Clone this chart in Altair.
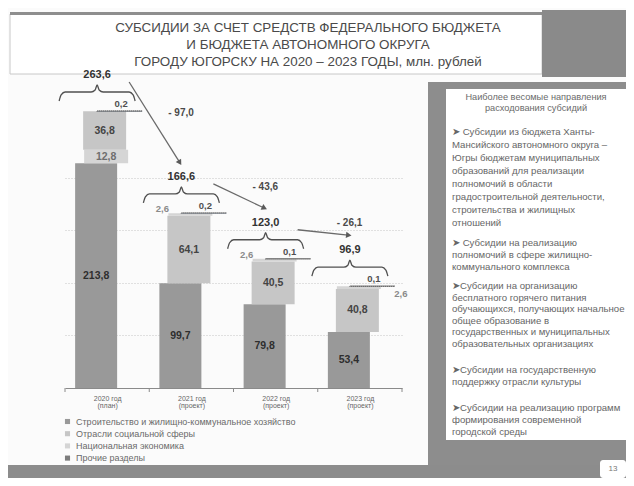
import json
import math
import altair as alt
import pandas as pd

# ---------------- data ----------------
categories = ["2020 год|(план)", "2021 год|(проект)", "2022 год|(проект)", "2023 год|(проект)"]
series = [
    "Строительство и жилищно-коммунальное хозяйство",
    "Отрасли социальной сферы",
    "Национальная экономика",
    "Прочие разделы",
]
construction = [213.8, 99.7, 79.8, 53.4]
social = [36.8, 64.1, 40.5, 40.8]
national = [12.8, 2.6, 2.6, 2.6]
other = [0.2, 0.2, 0.1, 0.1]
totals = [263.6, 166.6, 123.0, 96.9]
stack_orders = [[0, 2, 1, 3], [0, 1, 2, 3], [0, 1, 2, 3], [0, 1, 2, 3]]

title_lines = [
    "СУБСИДИИ ЗА СЧЕТ СРЕДСТВ ФЕДЕРАЛЬНОГО  БЮДЖЕТА",
    "И БЮДЖЕТА АВТОНОМНОГО ОКРУГА",
    "ГОРОДУ ЮГОРСКУ НА 2020 – 2023 ГОДЫ, млн. рублей",
]
panel_heading = "Наиболее  весомые  направления\nрасходования  субсидий"
panel_items = [
    "➤ Субсидии из бюджета Ханты-\nМансийского автономного округа –\nЮгры бюджетам  муниципальных\nобразований для реализации\nполномочий в области\nградостроительной деятельности,\nстроительства  и жилищных\nотношений",
    "➤ Субсидии на реализацию\nполномочий в сфере жилищно-\nкоммунального комплекса",
    "➤Субсидии на организацию\nбесплатного горячего питания\nобучающихся, получающих начальное\nобщее образование  в\nгосударственных  и муниципальных\nобразовательных  организациях",
    "➤Субсидии на государственную\nподдержку  отрасли культуры",
    "➤Субсидии на реализацию программ\nформирования современной\nгородской среды",
]
page_number = "13"

# ---------------- geometry / style ----------------
W, H = 337, 289
XMAX, YMAX = 4, 275
PXX, PXY = W / XMAX, H / YMAX


def ux(px):
    return px / PXX


def uy(px):
    return px / PXY


def fmt(v):
    return f"{v:.1f}".replace(".", ",")


FONT = "Liberation Sans"
NARROW = "Liberation Sans Narrow, Arial Narrow, Liberation Sans"
values = [construction, social, national, other]
seg_px = [(-32, 10), (-24, 19), (-23, 21), (-10, 35)]
colors = ["#999999", "#c6c6c6", "#d5d5d5", "#7d7d7d"]
label_colors = ["#2e2e2e", "#444444", "#6e6e6e", "#555555"]

xscale = alt.Scale(domain=[0, XMAX], nice=False, zero=False)
yscale = alt.Scale(domain=[0, YMAX], nice=False, zero=False)
label_expr = "split(" + json.dumps(categories, ensure_ascii=False) + "[floor(datum.value)], '|')"
xaxis = alt.Axis(values=[0.5, 1.5, 2.5, 3.5], labelExpr=label_expr, ticks=False, grid=False,
                 domainColor="#8a8a8a", domainWidth=1, labelFontSize=7, labelColor="#666666",
                 labelFont=FONT, labelPadding=6, labelLineHeight=7.5, title=None)
yaxis = alt.Axis(values=[50, 100, 150, 200], labels=False, ticks=False, domain=False, title=None,
                 gridColor="#c4c4c4", gridDash=[1, 2], gridWidth=1)


def X(f):
    return alt.X(f, type="quantitative", scale=xscale, axis=xaxis)


def Y(f):
    return alt.Y(f, type="quantitative", scale=yscale, axis=yaxis)


# bars
rows = []
for i in range(len(categories)):
    c = i + 0.5
    cum = 0.0
    for s in stack_orders[i]:
        v = values[s][i]
        a, b = seg_px[s]
        rows.append(dict(cat=i, series=series[s], sidx=s, x0=c + ux(a), x1=c + ux(b),
                         y0=cum, y1=cum + v, v=v, label=fmt(v), lc=label_colors[s]))
        cum += v
df = pd.DataFrame(rows)

# value labels
big, small = [], []
for r in rows:
    c = r["cat"] + 0.5
    if r["v"] >= 5:
        big.append(dict(x=(r["x0"] + r["x1"]) / 2, y=(r["y0"] + r["y1"]) / 2, t=r["label"], lc=r["lc"]))
    elif r["sidx"] == 2:
        if r["cat"] == len(categories) - 1:
            small.append(dict(x=c + ux(41), y=r["y1"] - uy(8), t=r["label"], lc="#8a8a8a"))
        else:
            small.append(dict(x=c + ux(-29), y=r["y1"] + uy(4), t=r["label"], lc="#8a8a8a"))
    else:
        small.append(dict(x=c + ux(14), y=r["y1"] + uy(7), t=r["label"], lc="#505050"))
df_big = pd.DataFrame(big)
df_small = pd.DataFrame(small)

# totals, braces, arrows
lab = [(i + 0.5 + ux(-10), t + uy(36)) for i, t in enumerate(totals)]
df_tot = pd.DataFrame(dict(x=[p[0] for p in lab], y=[p[1] for p in lab], t=[fmt(t) for t in totals]))

brace_shape = [(-48, 10), (-46, 16), (-42, 19), (-16, 19), (-12, 21), (-10, 26), (-8, 21),
               (-4, 19), (22, 19), (26, 16), (28, 10)]
br = []
for i, t in enumerate(totals):
    for k, (dx, up) in enumerate(brace_shape):
        br.append(dict(cat=i, k=k, x=i + 0.5 + ux(dx), y=t + uy(up)))
df_br = pd.DataFrame(br)

ar, heads, difs = [], [], []
for i in range(len(totals) - 1):
    sx, sy = lab[i][0] + ux(32), lab[i][1] - uy(7)
    ex, ey = lab[i + 1][0] + ux(-2), lab[i + 1][1] + uy(15)
    ar.append(dict(g=i, k=0, x=sx, y=sy))
    ar.append(dict(g=i, k=1, x=ex, y=ey))
    dxp, dyp = (ex - sx) * PXX, -(ey - sy) * PXY
    ang = math.degrees(math.atan2(dxp, -dyp)) % 360
    heads.append(dict(x=ex, y=ey, ang=ang))
    d = totals[i + 1] - totals[i]
    difs.append(dict(x=(sx + ex) / 2 + ux(14), y=(sy + ey) / 2 + uy(9),
                     t=("- " if d < 0 else "+ ") + fmt(abs(d))))
df_ar = pd.DataFrame(ar)
df_head = pd.DataFrame(heads)
df_dif = pd.DataFrame(difs)

one = pd.DataFrame({"k": [0]})


def rect(x1, x2, y1, y2, **kw):
    return alt.Chart(one).mark_rect(**kw).encode(
        x=alt.value(x1), x2=alt.value(x2), y=alt.value(y1), y2=alt.value(y2))


def text(x, y, t, **kw):
    return alt.Chart(one).mark_text(**kw).encode(x=alt.value(x), y=alt.value(y), text=alt.value(t))


layers = []
# title box
layers.append(rect(-55, 477, -85, -25, fill="#ffffff", stroke="#c8c8c8", strokeWidth=1))
layers.append(rect(-55, 477, -87, -84, fill="#8e8e8e"))
layers.append(rect(477, 561, -89, -22, fill="#8a8a8a"))
for j, line in enumerate(title_lines):
    layers.append(text(243, -71 + 17 * j, line, font=NARROW, fontSize=13.4, color="#4a4a4a",
                       align="center", baseline="middle"))
# right panel
layers.append(rect(363, 561, -17, 367, fill="#8d8d8d"))
layers.append(rect(381, 561, -10, 341, fill="#ffffff"))
layers.append(text(471, -2, panel_heading, font=FONT, fontSize=9.2, color="#6a6a6a", align="center",
                   baseline="middle", lineBreak="\n", lineHeight=11))
for yy, lh, item in zip([33, 144, 187, 271, 309], [13, 12, 11.5, 12, 12], panel_items):
    layers.append(text(387, yy, item, font=FONT, fontSize=9.6, color="#666666", align="left",
                       baseline="middle", lineBreak="\n", lineHeight=lh))
# bottom band and page number
layers.append(rect(-57, 561, 366, 379, fill="#8c8c8c"))
layers.append(rect(535, 561, 361, 379, fill="#ffffff", cornerRadius=3))
layers.append(text(548, 370, page_number, font=FONT, fontSize=8, color="#777777", align="center",
                   baseline="middle"))

# bars
layers.append(alt.Chart(df).mark_rect().encode(
    x=X("x0"), x2="x1", y=Y("y0"), y2="y1",
    color=alt.Color("series:N", scale=alt.Scale(domain=series, range=colors),
                    legend=alt.Legend(title=None, orient="none", legendX=-2, legendY=318,
                                      direction="vertical", symbolType="square", symbolSize=26,
                                      symbolStrokeWidth=0, labelFontSize=9, labelColor="#6a6a6a",
                                      labelFont=FONT, rowPadding=2.2, labelLimit=400))))
layers.append(alt.Chart(df[df.sidx == 3]).mark_rect(stroke="#6e6e6e", strokeWidth=1.3,
                                                   strokeDash=[1, 1]).encode(
    x=X("x0"), x2="x1", y=Y("y0"), y2="y1"))
# boundary ticks on the category axis
layers.append(alt.Chart(pd.DataFrame({"b": list(range(len(categories) + 1))})).mark_rule(
    color="#8a8a8a").encode(x=X("b"), y=alt.value(H), y2=alt.value(H + 4)))
# value labels
layers.append(alt.Chart(df_big).mark_text(font=FONT, fontSize=10.5, fontWeight="bold").encode(
    x=X("x"), y=Y("y"), text="t:N", fill=alt.Fill("lc:N", scale=None)))
layers.append(alt.Chart(df_small).mark_text(font=FONT, fontSize=9.5, fontWeight="bold").encode(
    x=X("x"), y=Y("y"), text="t:N", fill=alt.Fill("lc:N", scale=None)))
# braces and totals
layers.append(alt.Chart(df_br).mark_line(interpolate="monotone", color="#505050", strokeWidth=1.3).encode(
    x=X("x"), y=Y("y"), detail="cat:N", order="k:Q"))
layers.append(alt.Chart(df_tot).mark_text(font=FONT, fontSize=11, fontWeight="bold", color="#333333").encode(
    x=X("x"), y=Y("y"), text="t:N"))
# arrows and differences
layers.append(alt.Chart(df_ar).mark_line(color="#6a6a6a", strokeWidth=1.3).encode(
    x=X("x"), y=Y("y"), detail="g:N", order="k:Q"))
layers.append(alt.Chart(df_head).mark_point(shape="triangle", filled=True, size=40, color="#5a5a5a",
                                            opacity=1).encode(
    x=X("x"), y=Y("y"), angle=alt.Angle("ang:Q", scale=None)))
layers.append(alt.Chart(df_dif).mark_text(font=FONT, fontSize=10, fontWeight="bold", color="#4a4a4a",
                                          align="left").encode(
    x=X("x"), y=Y("y"), text="t:N"))

chart = alt.layer(*layers).properties(
    width=W, height=H,
    padding={"left": 57, "top": 91, "right": 224, "bottom": 90},
    autosize=alt.AutoSizeParams(type="none"),
    background="#fbfbfb",
).configure_view(stroke="transparent")

chart.save("out.html", embed_options={"renderer": "svg", "actions": False})
